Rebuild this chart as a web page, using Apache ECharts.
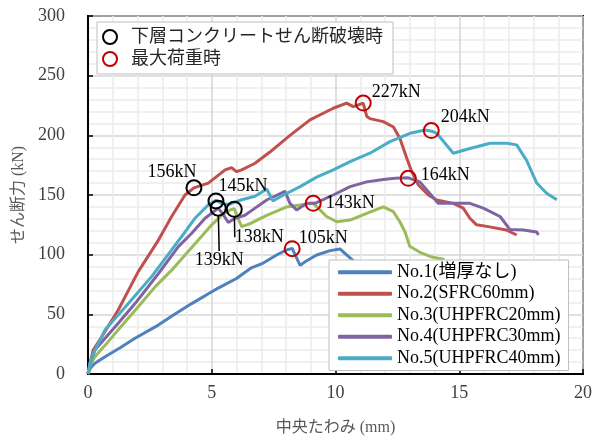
<!DOCTYPE html>
<html>
<head>
<meta charset="utf-8">
<script src="https://cdn.jsdelivr.net/npm/echarts@6/dist/echarts.min.js"></script>
<style>html,body{margin:0;padding:0;background:#fff;}#c{width:598px;height:441px;}</style>
</head>
<body>
<div id="c"></div>
<script>
// ---- data ----
const seriesNames = ['No.1(増厚なし)', 'No.2(SFRC60mm)', 'No.3(UHPFRC20mm)', 'No.4(UHPFRC30mm)', 'No.5(UHPFRC40mm)'];
const no1 = [[0,0],[0.1,5],[0.28,9],[0.69,14.5],[1.3,22],[1.9,30],[2.84,41],[3.5,50],[4.19,59],[5.26,72],[6.0,80],[6.6,89],[7.08,93],[7.62,99.7],[8.03,104],[8.25,105.3],[8.57,91],[8.77,94],[9.24,99.7],[9.78,103.4],[10.18,104.8],[10.38,101],[10.6,97],[10.9,92]];
const no2 = [[0,0],[0.08,9],[0.21,20],[0.55,31],[1.22,53.6],[2.03,85.8],[2.84,112],[3.38,132],[3.92,150],[4.28,156],[4.86,160],[5.54,171],[5.8,173],[6.0,169.6],[6.21,171],[6.75,176.6],[7.35,186],[8.16,200],[8.97,213],[9.91,222.7],[10.45,227],[10.72,224],[11.12,227],[11.26,216],[11.39,214],[11.93,211.5],[12.34,207],[12.6,197.6],[12.88,180.8],[13.08,169.6],[13.35,158.4],[13.75,150],[14.09,145.8],[14.76,143],[15.16,139],[15.43,130.5],[15.7,125],[16.17,123.5],[16.9,120.7],[17.32,116.5]];
const no3 = [[0,0],[0.1,8],[0.28,14.5],[0.69,24],[1.22,37],[2.03,56.4],[2.71,73],[3.38,87],[3.92,99.7],[4.46,112.3],[5.0,125],[5.4,133],[5.74,137.5],[5.91,138.5],[6.07,130],[6.21,123.5],[6.55,126],[7.22,133],[8.03,140],[8.57,141.7],[9.1,143],[9.3,139],[9.64,132],[10.05,127.6],[10.59,129],[11.26,134.6],[11.93,140],[12.34,136],[12.6,127.6],[12.81,119],[13.0,107],[13.41,102],[13.9,98],[14.4,96]];
const no4 = [[0,0],[0.1,10],[0.28,20],[0.69,30],[1.22,42.5],[1.9,59],[2.84,84],[3.65,106.7],[4.19,118],[4.73,130.5],[5.26,139],[5.45,134],[5.67,127],[5.94,130.5],[6.34,133],[6.75,139],[7.22,145.8],[7.96,153],[8.16,143],[8.43,137.5],[8.84,143],[9.17,143],[9.91,150],[10.59,157],[11.26,161],[11.93,163],[12.4,164],[12.94,164.4],[13.41,161],[13.75,152.8],[14.15,143],[14.9,143],[15.43,143],[15.97,139],[16.65,132],[17.05,121],[17.59,120.7],[18.13,119],[18.2,116.5]];
const no5 = [[0,0],[0.08,9],[0.21,17],[0.69,37],[1.63,59],[2.57,81.6],[3.38,104],[3.92,119],[4.32,130.5],[4.86,141.7],[5.17,145.5],[5.4,143],[5.67,142],[6.21,146],[6.75,149],[7.22,155],[7.47,145],[7.9,150],[8.57,157],[9.24,165],[9.91,171],[10.59,178],[11.39,185],[12.2,194.7],[13.01,201.7],[13.62,204.5],[13.89,203.5],[14.09,201.7],[14.76,185],[15.43,189],[16.24,193.4],[16.92,193.4],[17.32,192],[17.72,179],[18.13,160],[18.53,151.5],[18.94,146]];
const crackName = '下層コンクリートせん断破壊時';
const maxName = '最大荷重時';
const crackPts = [[4.28,156],[5.17,145]];
const crackLeadPts = [[5.26,139],[5.91,138]];
const maxPts = [[8.25,105],[9.1,143],[11.12,227],[13.87,204],[12.94,164]];
const xTicks = {min:0, max:20, interval:5};
const yTicks = {min:0, max:300, interval:50};

// ---- layout / style (not data) ----
const crackOffsets = [[-22,-16],[27,-15]];
const crackLeadOffsets = [[1,52],[25,28]];
const maxOffsets = [[31,-10],[37,0],[33,-11],[34,-13],[37,-3]];
const colors = ['#4F81BD','#C0504D','#9BBB59','#8064A2','#4BACC6'];
const FONT = "'Liberation Serif', 'Noto Sans CJK JP', serif";

const chart = echarts.init(document.getElementById('c'), null, {renderer:'canvas'});
const lineData = [no1,no2,no3,no4,no5];
const lineSeries = lineData.map((d,i)=>({
  name: seriesNames[i], type:'line', data:d, showSymbol:false, symbol:'none',
  lineStyle:{color:colors[i], width:3}, itemStyle:{color:colors[i]}, z:2+i*0.01, animation:false
}));
const lbl = {show:true, position:'inside', formatter:p=>p.value[1]+'kN', fontFamily:FONT, fontSize:18, color:'#000'};
function scatter(name, data, color, offsets, lead){
  return {
    name, type:'scatter', data, symbol:'circle', symbolSize:15, z:5, animation:false,
    itemStyle:{color:'rgba(0,0,0,0)', borderColor:color, borderWidth:2, opacity:1},
    label: lbl,
    labelLayout: p => ({dx: offsets[p.dataIndex][0], dy: offsets[p.dataIndex][1]}),
    labelLine: lead ? {show:true, lineStyle:{color:'#000', width:1.5}} : {show:false},
    emphasis:{disabled:true}
  };
}
const option = {
  backgroundColor:'#fff',
  animation:false,
  grid:{left:88, right:15, top:16, bottom:67, show:true, borderColor:'#000', borderWidth:2, backgroundColor:'transparent'},
  xAxis:{type:'value', min:xTicks.min, max:xTicks.max, interval:xTicks.interval,
    name:'中央たわみ (mm)', nameLocation:'middle', nameGap:46,
    nameTextStyle:{fontFamily:FONT, fontSize:16, color:'#595959'},
    axisLine:{show:true, onZero:false, lineStyle:{color:'#000', width:2}},
    axisTick:{show:true, inside:true, length:5, lineStyle:{color:'#000', width:1.5}},
    axisLabel:{fontFamily:FONT, fontSize:18, color:'#404040', margin:10},
    splitLine:{show:true, lineStyle:{color:'#d6d6d6', width:1.5}},
    minorTick:{show:false, splitNumber:5},
    minorSplitLine:{show:true, lineStyle:{color:'#ececec', width:1.5}}
  },
  yAxis:{type:'value', min:yTicks.min, max:yTicks.max, interval:yTicks.interval,
    name:'せん断力 (kN)', nameLocation:'middle', nameGap:52,
    nameTextStyle:{fontFamily:FONT, fontSize:16, color:'#595959'},
    axisLine:{show:true, onZero:false, lineStyle:{color:'#000', width:2}},
    axisTick:{show:true, inside:true, length:5, lineStyle:{color:'#000', width:1.5}},
    axisLabel:{fontFamily:FONT, fontSize:18, color:'#404040', margin:23},
    splitLine:{show:true, lineStyle:{color:'#d6d6d6', width:1.5}},
    minorTick:{show:false, splitNumber:5},
    minorSplitLine:{show:true, lineStyle:{color:'#ececec', width:1.5}}
  },
  legend:[
    {left:97, top:22, orient:'vertical', selectedMode:false,
     backgroundColor:'#fff', borderColor:'#bfbfbf', borderWidth:1, borderRadius:0,
     padding:[6,10,6,5], itemGap:4, itemWidth:14, itemHeight:14,
     textStyle:{fontFamily:FONT, fontSize:18, color:'#262626', padding:[0,0,0,9]},
     data:[
      {name:crackName, icon:'circle', itemStyle:{color:'rgba(0,0,0,0)', borderColor:'#000', borderWidth:2, opacity:1}},
      {name:maxName, icon:'circle', itemStyle:{color:'rgba(0,0,0,0)', borderColor:'#C00000', borderWidth:2, opacity:1}}
     ]},
    {left:329, top:260, orient:'vertical', selectedMode:false,
     backgroundColor:'#fff', borderColor:'#bfbfbf', borderWidth:1, borderRadius:0,
     padding:[3,8,3,9], itemGap:3, itemWidth:54, itemHeight:4,
     textStyle:{fontFamily:FONT, fontSize:18, color:'#000', lineHeight:18.5},
     data: seriesNames.map((n,i)=>({name:n, icon:'roundRect', itemStyle:{color:colors[i]}}))
    }
  ],
  series:[
    ...lineSeries,
    scatter(crackName, crackPts, '#000', crackOffsets, false),
    scatter(crackName, crackLeadPts, '#000', crackLeadOffsets, true),
    scatter(maxName, maxPts, '#C00000', maxOffsets, false)
  ]
};
chart.setOption(option);
</script>
</body>
</html>
